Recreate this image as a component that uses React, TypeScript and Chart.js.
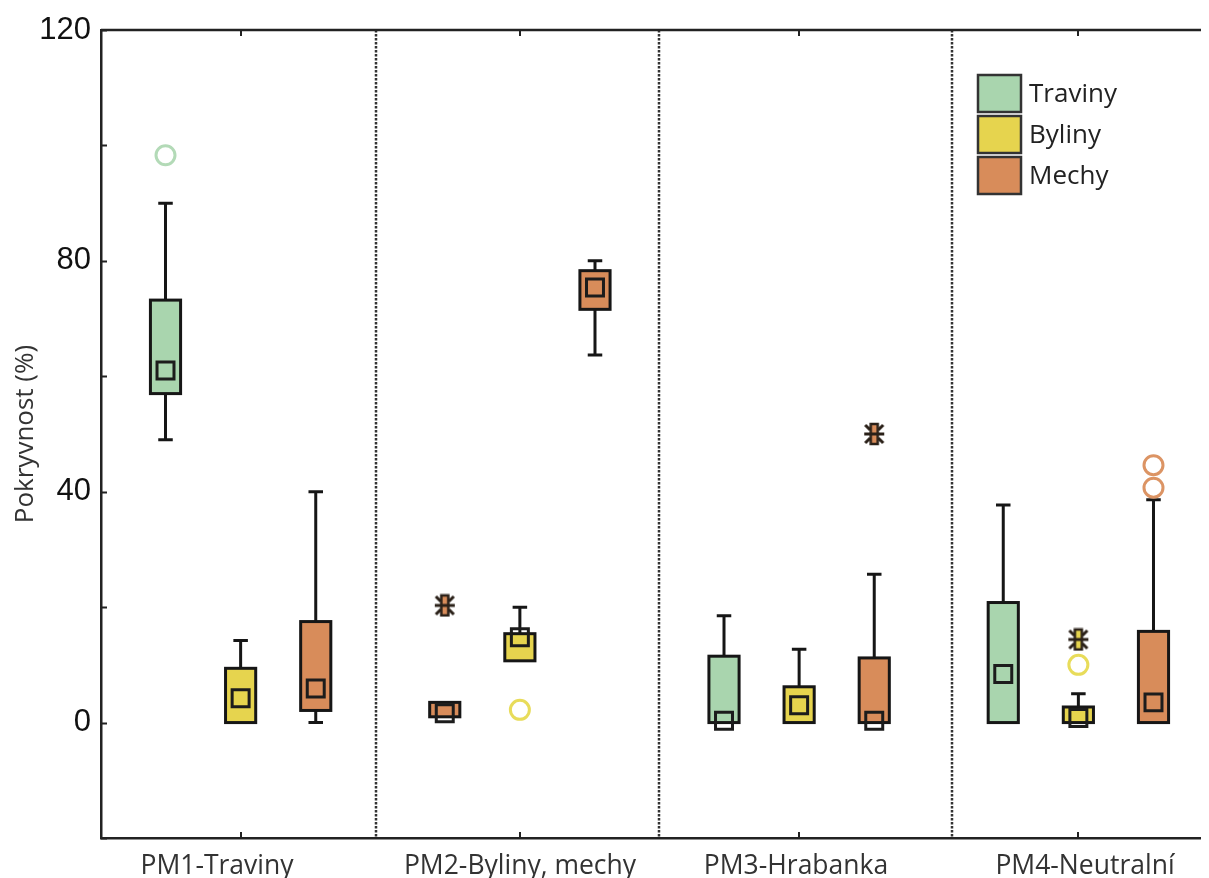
import React, { useEffect, useRef } from 'react';
import { Chart, registerables } from 'chart.js';

Chart.register(...registerables);

// ---------- DATA ----------
const categories = ['PM1-Traviny', 'PM2-Byliny, mechy', 'PM3-Hrabanka', 'PM4-Neutralní'];
const seriesNames = ['Traviny', 'Byliny', 'Mechy'];

const yTickValues = [-20, 0, 20, 40, 60, 80, 100, 120];
const yTickLabels = ['', '0', '', '40', '', '80', '', '120'];

// values per category: [PM1, PM2, PM3, PM4]
const travinyMin = [49, 1, 0, 0];
const travinyQ1 = [57, 1, 0, 0];
const travinyMedian = [61, 1.6, 0.3, 8.4];
const travinyQ3 = [73.2, 3.5, 11.5, 20.8];
const travinyMax = [90, 3.5, 18.5, 37.7];
const travinyOutliers = [[98.3], [], [], []];
const travinyExtremes = [[], [20.3], [], []];

const bylinyMin = [0, 10.7, 0, 0];
const bylinyQ1 = [0, 10.7, 0, 0];
const bylinyMedian = [4.2, 14.8, 3.0, 0.8];
const bylinyQ3 = [9.4, 15.4, 6.2, 2.7];
const bylinyMax = [14.2, 20, 12.7, 5.0];
const bylinyOutliers = [[], [2.2], [], [10]];
const bylinyExtremes = [[], [], [], [14.4]];

const mechyMin = [0, 63.7, 0, 0];
const mechyQ1 = [2.1, 71.6, 0, 0];
const mechyMedian = [5.9, 75.4, 0.3, 3.5];
const mechyQ3 = [17.5, 78.3, 11.2, 15.8];
const mechyMax = [40, 80, 25.7, 38.6];
const mechyOutliers = [[], [], [], [40.7, 44.6]];
const mechyExtremes = [[], [], [50], []];

// group separators (x in category units)
const separators = [0.484, 1.498, 2.548];

// ---------- STYLE ----------
const GREEN = '#a9d5ae';
const YELLOW = '#e6d44e';
const ORANGE = '#d88c5a';
const GREEN_O = '#b3dab7';
const YELLOW_O = '#e8dc5a';
const ORANGE_O = '#dc9464';
const seriesFill = [GREEN, YELLOW, ORANGE];
const seriesOutline = [GREEN_O, YELLOW_O, ORANGE_O];
// PM2 first slot is drawn orange in the source figure
const slotFill = [
  [GREEN, ORANGE, GREEN, GREEN],
  [YELLOW, YELLOW, YELLOW, YELLOW],
  [ORANGE, ORANGE, ORANGE, ORANGE],
];
const OFFSETS = [-0.269, 0, 0.269];
const BOX_W = 0.108;
const CAP_W = 0.052;
const DARK = '#161616';
const LABEL_SHIFT = [-24, 0, -3, 7];

const series = [
  { min: travinyMin, q1: travinyQ1, med: travinyMedian, q3: travinyQ3, max: travinyMax, out: travinyOutliers, ext: travinyExtremes },
  { min: bylinyMin, q1: bylinyQ1, med: bylinyMedian, q3: bylinyQ3, max: bylinyMax, out: bylinyOutliers, ext: bylinyExtremes },
  { min: mechyMin, q1: mechyQ1, med: mechyMedian, q3: mechyQ3, max: mechyMax, out: mechyOutliers, ext: mechyExtremes },
];

function makeStar(fill: string): HTMLCanvasElement {
  const c = document.createElement('canvas');
  c.width = 24;
  c.height = 24;
  const g = c.getContext('2d')!;
  g.strokeStyle = '#2a2018';
  g.lineWidth = 3;
  g.lineCap = 'butt';
  const diag = [[3, 3, 8, 8], [21, 3, 16, 8], [3, 21, 8, 16], [21, 21, 16, 16]];
  diag.forEach(([a, b, c2, d]) => {
    g.beginPath();
    g.moveTo(a, b);
    g.lineTo(c2, d);
    g.stroke();
  });
  g.fillStyle = fill;
  g.fillRect(8.5, 2, 7, 20);
  g.lineWidth = 2.5;
  g.strokeRect(8.5, 2, 7, 20);
  g.fillStyle = '#2a2018';
  g.fillRect(2, 10.5, 20, 3);
  return c;
}

const boxPlugin = {
  id: 'boxes',
  beforeDatasetsDraw(chart: any) {
    const { ctx, chartArea: a, scales } = chart;
    const x = scales.x;
    const y = scales.y;
    ctx.save();
    // separators
    ctx.strokeStyle = '#333';
    ctx.lineWidth = 2.5;
    ctx.setLineDash([2.5, 1.5]);
    separators.forEach((s) => {
      const px = Math.round(x.getPixelForValue(s));
      ctx.beginPath();
      ctx.moveTo(px, a.top);
      ctx.lineTo(px, a.bottom);
      ctx.stroke();
    });
    ctx.setLineDash([]);
    const hw = (x.getPixelForValue(BOX_W) - x.getPixelForValue(0)) / 2;
    const cw = (x.getPixelForValue(CAP_W) - x.getPixelForValue(0)) / 2;
    series.forEach((s, si) => {
      categories.forEach((_, ci) => {
        const q1 = s.q1[ci];
        const q3 = s.q3[ci];
        if (q1 == null || q3 == null) return;
        const cx = x.getPixelForValue(ci + OFFSETS[si]);
        const yq1 = y.getPixelForValue(q1);
        const yq3 = y.getPixelForValue(q3);
        ctx.strokeStyle = DARK;
        ctx.lineWidth = 3;
        const hi = s.max[ci];
        const lo = s.min[ci];
        if (hi != null && hi > q3) {
          const yh = y.getPixelForValue(hi);
          ctx.beginPath();
          ctx.moveTo(cx, yq3);
          ctx.lineTo(cx, yh);
          ctx.moveTo(cx - cw, yh);
          ctx.lineTo(cx + cw, yh);
          ctx.stroke();
        }
        if (lo != null && lo < q1) {
          const yl = y.getPixelForValue(lo);
          ctx.beginPath();
          ctx.moveTo(cx, yq1);
          ctx.lineTo(cx, yl);
          ctx.moveTo(cx - cw, yl);
          ctx.lineTo(cx + cw, yl);
          ctx.stroke();
        }
        ctx.fillStyle = slotFill[si][ci];
        ctx.fillRect(cx - hw, yq3, 2 * hw, yq1 - yq3);
        ctx.strokeRect(cx - hw, yq3, 2 * hw, yq1 - yq3);
      });
    });
    ctx.restore();
  },
  afterDraw(chart: any) {
    const { ctx, chartArea: a, scales } = chart;
    const x = scales.x;
    const y = scales.y;
    ctx.save();
    ctx.strokeStyle = '#222';
    ctx.lineWidth = 2.5;
    ctx.beginPath();
    ctx.moveTo(a.left, a.top);
    ctx.lineTo(a.right, a.top);
    ctx.lineTo(a.right, a.bottom);
    ctx.stroke();
    ctx.lineWidth = 2;
    y.ticks.forEach((t: any) => {
      const py = Math.round(y.getPixelForValue(t.value)) + 0.5;
      ctx.beginPath();
      ctx.moveTo(a.left, py);
      ctx.lineTo(a.left + 6, py);
      ctx.moveTo(a.right - 6, py);
      ctx.lineTo(a.right, py);
      ctx.stroke();
    });
    // category ticks and labels
    ctx.fillStyle = '#333';
    ctx.font = '26.5px "Open Sans"';
    ctx.textAlign = 'center';
    ctx.textBaseline = 'alphabetic';
    x.ticks.forEach((t: any, i: number) => {
      const px = Math.round(x.getPixelForValue(t.value));
      ctx.beginPath();
      ctx.moveTo(px, a.bottom);
      ctx.lineTo(px, a.bottom - 6);
      ctx.moveTo(px, a.top);
      ctx.lineTo(px, a.top + 6);
      ctx.stroke();
      ctx.fillText(categories[t.value] ?? '', px + LABEL_SHIFT[i], a.bottom + 36);
    });
    // legend
    const lx = 970;
    const ly = [67, 108, 149];
    const sw = 43;
    const sh = 37;
    seriesNames.forEach((name, i) => {
      ctx.fillStyle = seriesFill[i];
      ctx.fillRect(lx, ly[i], sw, sh);
      ctx.strokeStyle = '#333';
      ctx.lineWidth = 2.5;
      ctx.strokeRect(lx, ly[i], sw, sh);
      ctx.fillStyle = '#222';
      ctx.font = '26px "Open Sans"';
      ctx.textBaseline = 'middle';
      ctx.textAlign = 'left';
      ctx.fillText(name, lx + 51, ly[i] + sh / 2 + 1);
    });
    ctx.restore();
  },
};

export default function App() {
  const ref = useRef<HTMLCanvasElement>(null);

  useEffect(() => {
    if (!ref.current) return;
    const datasets: any[] = [];
    series.forEach((s, si) => {
      datasets.push({
        label: seriesNames[si] + ' median',
        data: categories.map((_, ci) => ({ x: ci + OFFSETS[si], y: s.med[ci] })),
        pointStyle: 'rect',
        pointRadius: 12,
        pointBorderWidth: 3,
        pointBorderColor: '#1c1c1c',
        pointBackgroundColor: 'rgba(0,0,0,0)',
        showLine: false,
      });
      const outPts: any[] = [];
      s.out.forEach((vals, ci) => vals.forEach((v) => outPts.push({ x: ci + OFFSETS[si], y: v })));
      datasets.push({
        label: seriesNames[si] + ' outliers',
        data: outPts,
        pointStyle: 'circle',
        pointRadius: 9.5,
        pointBorderWidth: 3,
        pointBorderColor: seriesOutline[si],
        pointBackgroundColor: 'rgba(0,0,0,0)',
        showLine: false,
      });
      const extPts: any[] = [];
      const extStyles: any[] = [];
      s.ext.forEach((vals, ci) =>
        vals.forEach((v) => {
          extPts.push({ x: ci + OFFSETS[si], y: v });
          extStyles.push(makeStar(slotFill[si][ci]));
        })
      );
      datasets.push({
        label: seriesNames[si] + ' extremes',
        data: extPts,
        pointStyle: extStyles,
        pointRadius: 12,
        showLine: false,
      });
    });

    const chart = new Chart(ref.current, {
      type: 'scatter',
      data: { datasets },
      plugins: [boxPlugin],
      options: {
        animation: false,
        responsive: false,
        events: [],
        layout: { autoPadding: false, padding: { top: 22, left: 0, right: 0, bottom: 0 } },
        plugins: { legend: { display: false }, tooltip: { enabled: false } },
        scales: {
          x: {
            type: 'linear',
            min: -0.5,
            max: 3.5,
            grid: { display: false, drawTicks: false },
            border: { display: true, color: '#222', width: 2.5 },
            afterBuildTicks: (scale: any) => {
              scale.ticks = categories.map((_, i) => ({ value: i }));
            },
            afterFit: (scale: any) => {
              scale.height = 40;
              scale.paddingLeft = 0;
              scale.paddingRight = 0;
              scale.paddingTop = 0;
              scale.paddingBottom = 0;
            },
            ticks: {
              display: false,
              autoSkip: false,
              maxRotation: 0,
            },
          },
          y: {
            type: 'linear',
            min: -20,
            max: 120,
            grid: { display: false, drawTicks: false },
            border: { display: true, color: '#222', width: 2.5 },
            afterBuildTicks: (scale: any) => {
              scale.ticks = yTickValues.map((v) => ({ value: v }));
            },
            afterFit: (scale: any) => {
              scale.width = 93;
              scale.paddingLeft = 0;
              scale.paddingRight = 0;
              scale.paddingTop = 0;
              scale.paddingBottom = 0;
            },
            ticks: {
              autoSkip: false,
              padding: 10,
              color: '#111',
              font: { family: '"Liberation Sans"', size: 31 },
              callback: (_v: any, i: number) => yTickLabels[i],
            },
            title: {
              display: true,
              text: 'Pokryvnost (%)',
              color: '#333',
              font: { family: '"Open Sans"', size: 26 },
              padding: { top: 2, bottom: 0 },
            },
          },
        },
      },
    });
    return () => chart.destroy();
  }, []);

  return (
    <div style={{ width: 1201, overflow: 'hidden' }}>
      <div style={{ width: 1210, height: 870 }}>
        <canvas ref={ref} width={1210} height={870} style={{ display: 'block' }} />
      </div>
    </div>
  );
}
